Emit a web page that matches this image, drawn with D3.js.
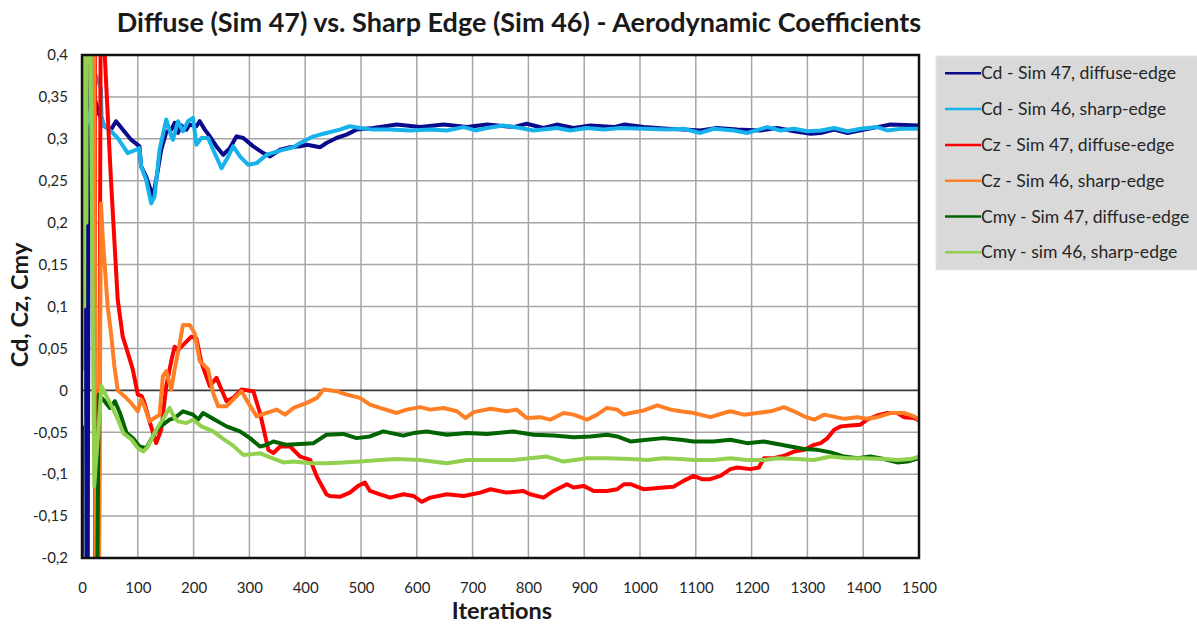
<!DOCTYPE html>
<html>
<head>
<meta charset="utf-8">
<script src="https://cdn.jsdelivr.net/npm/d3@7"></script>
<style>
  html, body { margin: 0; padding: 0; background: #ffffff; }
  svg { display: block; }
  text { font-family: Lato, "Open Sans", "Liberation Sans", sans-serif; }
</style>
</head>
<body>
<svg id="chart" width="1197" height="624"></svg>
<script>
// Iteration / coefficient pairs for each run
const cd47 = [
  [0,0.5],[7,0.18],[9,-0.6],[14,0.9],[20,0.36],[24,0.345],[30,0.33],[34,0.325],[40,0.315],[52,0.311],[61,0.321],[73,0.311],[88,0.299],[103,0.291],[106,0.267],[115,0.255],[127,0.231],[133,0.251],[142,0.287],[151,0.308],[160,0.311],[166,0.319],[172,0.307],[178,0.316],[187,0.311],[193,0.317],[205,0.315],[211,0.321],[220,0.311],[229,0.303],[241,0.291],[253,0.281],[265,0.289],[277,0.303],[289,0.301],[307,0.291],[325,0.283],[337,0.279],[355,0.287],[373,0.29],[391,0.291],[403,0.293],[427,0.29],[438,0.295],[456,0.301],[474,0.305],[492,0.311],[522,0.313],[564,0.317],[606,0.314],[648,0.317],[690,0.314],[726,0.317],[773,0.314],[797,0.318],[827,0.313],[851,0.317],[881,0.313],[911,0.316],[953,0.314],[971,0.317],[1007,0.314],[1049,0.312],[1078,0.311],[1108,0.31],[1138,0.313],[1174,0.311],[1216,0.31],[1246,0.313],[1276,0.309],[1306,0.306],[1324,0.307],[1348,0.311],[1372,0.307],[1402,0.311],[1425,0.314],[1449,0.317],[1500,0.316]
];
const cd46 = [
  [0,0.3],[10,0.32],[18,0.34],[25,0.375],[30,0.368],[34,0.36],[35,0.327],[40,0.315],[52,0.309],[64,0.301],[82,0.283],[97,0.287],[103,0.289],[106,0.267],[115,0.251],[124,0.223],[130,0.231],[139,0.287],[151,0.323],[160,0.303],[163,0.299],[172,0.321],[181,0.309],[190,0.321],[199,0.325],[205,0.293],[214,0.301],[226,0.301],[235,0.287],[250,0.265],[262,0.279],[271,0.291],[283,0.279],[298,0.269],[313,0.271],[331,0.281],[355,0.286],[379,0.29],[391,0.295],[415,0.303],[438,0.307],[462,0.311],[480,0.315],[498,0.313],[522,0.311],[552,0.311],[588,0.31],[624,0.311],[654,0.31],[684,0.314],[705,0.31],[726,0.313],[755,0.316],[785,0.313],[809,0.31],[851,0.313],[875,0.31],[905,0.313],[935,0.311],[965,0.313],[1007,0.312],[1049,0.311],[1078,0.312],[1108,0.307],[1132,0.312],[1168,0.31],[1192,0.307],[1228,0.314],[1252,0.31],[1276,0.312],[1300,0.309],[1324,0.31],[1348,0.313],[1372,0.309],[1396,0.312],[1425,0.314],[1443,0.31],[1468,0.312],[1500,0.312]
];
const cz47 = [
  [0,1.5],[22,1.5],[25,-1.5],[38,1.5],[40,0.41],[52,0.25],[64,0.108],[73,0.064],[82,0.045],[91,0.025],[100,-0.005],[107,-0.007],[112,-0.015],[121,-0.037],[133,-0.063],[142,-0.047],[151,0.005],[160,0.035],[166,0.052],[172,0.048],[184,0.056],[196,0.064],[205,0.062],[214,0.033],[229,0.005],[241,0.015],[259,-0.013],[271,-0.009],[286,0.001],[307,-0.001],[319,-0.027],[334,-0.071],[343,-0.075],[355,-0.067],[373,-0.067],[391,-0.079],[409,-0.083],[421,-0.103],[438,-0.124],[444,-0.126],[462,-0.127],[480,-0.122],[495,-0.114],[507,-0.11],[516,-0.12],[534,-0.124],[552,-0.128],[576,-0.124],[594,-0.126],[609,-0.133],[624,-0.128],[654,-0.124],[684,-0.126],[714,-0.122],[732,-0.118],[761,-0.122],[791,-0.12],[803,-0.124],[827,-0.128],[845,-0.12],[869,-0.112],[881,-0.116],[899,-0.114],[917,-0.12],[941,-0.12],[959,-0.118],[971,-0.112],[983,-0.112],[1007,-0.118],[1042,-0.116],[1060,-0.115],[1078,-0.108],[1096,-0.102],[1111,-0.106],[1126,-0.106],[1144,-0.102],[1162,-0.094],[1174,-0.092],[1198,-0.094],[1213,-0.092],[1222,-0.081],[1240,-0.081],[1258,-0.078],[1276,-0.073],[1294,-0.071],[1312,-0.065],[1324,-0.063],[1336,-0.057],[1348,-0.047],[1360,-0.043],[1377,-0.042],[1395,-0.041],[1407,-0.035],[1425,-0.03],[1443,-0.027],[1461,-0.027],[1473,-0.032],[1491,-0.033],[1500,-0.036]
];
const cz46 = [
  [0,0.035],[2,1.5],[16,1.5],[27,-0.6],[34,0.223],[37,0.184],[43,0.128],[46,0.1],[52,0.068],[58,0.029],[64,0.0],[76,-0.007],[88,-0.015],[100,-0.025],[106,-0.011],[112,-0.019],[121,-0.037],[130,-0.033],[139,-0.029],[145,0.017],[151,0.023],[160,0.001],[166,0.025],[172,0.045],[181,0.078],[193,0.078],[202,0.068],[211,0.035],[226,0.025],[235,-0.003],[244,-0.019],[259,-0.019],[277,-0.007],[286,-0.001],[298,-0.015],[313,-0.031],[331,-0.027],[349,-0.023],[364,-0.029],[379,-0.021],[403,-0.015],[421,-0.009],[433,0.001],[456,-0.001],[474,-0.005],[498,-0.009],[516,-0.017],[534,-0.021],[564,-0.027],[582,-0.023],[606,-0.02],[624,-0.023],[648,-0.021],[672,-0.025],[687,-0.033],[702,-0.026],[732,-0.022],[761,-0.025],[779,-0.023],[797,-0.033],[821,-0.032],[839,-0.035],[863,-0.027],[881,-0.029],[905,-0.035],[923,-0.029],[941,-0.021],[959,-0.023],[971,-0.029],[983,-0.027],[1007,-0.024],[1031,-0.018],[1055,-0.023],[1073,-0.025],[1096,-0.027],[1126,-0.032],[1150,-0.027],[1162,-0.025],[1186,-0.029],[1210,-0.027],[1234,-0.025],[1258,-0.02],[1276,-0.025],[1294,-0.031],[1312,-0.035],[1330,-0.029],[1366,-0.034],[1390,-0.032],[1407,-0.034],[1425,-0.032],[1449,-0.027],[1473,-0.027],[1491,-0.031],[1500,-0.035]
];
const cmy47 = [
  [0,-0.043],[2,-1.5],[18,-1.5],[24,-0.5],[30,-0.005],[38,-0.011],[50,-0.021],[59,-0.013],[68,-0.027],[80,-0.051],[91,-0.057],[103,-0.067],[115,-0.069],[127,-0.055],[139,-0.043],[145,-0.041],[157,-0.035],[166,-0.033],[181,-0.025],[199,-0.029],[208,-0.035],[217,-0.027],[235,-0.034],[259,-0.043],[283,-0.049],[301,-0.057],[319,-0.067],[331,-0.065],[343,-0.061],[367,-0.065],[391,-0.064],[415,-0.063],[438,-0.053],[468,-0.052],[492,-0.057],[516,-0.055],[540,-0.049],[576,-0.054],[594,-0.051],[618,-0.049],[654,-0.053],[690,-0.051],[726,-0.052],[773,-0.049],[809,-0.053],[845,-0.054],[881,-0.056],[911,-0.055],[941,-0.053],[959,-0.055],[983,-0.061],[1013,-0.059],[1042,-0.057],[1073,-0.059],[1096,-0.061],[1132,-0.061],[1162,-0.059],[1192,-0.063],[1222,-0.061],[1246,-0.064],[1270,-0.067],[1294,-0.07],[1318,-0.071],[1342,-0.074],[1366,-0.079],[1390,-0.081],[1413,-0.079],[1437,-0.082],[1461,-0.086],[1479,-0.085],[1500,-0.081]
];
const cmy46 = [
  [0,0.025],[2,1.5],[4,0.1],[6,1.5],[8,0.2],[11,1.5],[13,0.6],[22,-0.114],[35,0.005],[50,-0.015],[62,-0.031],[74,-0.051],[89,-0.059],[100,-0.069],[110,-0.073],[118,-0.067],[133,-0.047],[148,-0.031],[157,-0.021],[166,-0.033],[172,-0.037],[187,-0.039],[199,-0.035],[214,-0.043],[235,-0.049],[253,-0.058],[271,-0.066],[289,-0.077],[307,-0.076],[319,-0.075],[337,-0.08],[361,-0.086],[379,-0.085],[409,-0.087],[438,-0.087],[468,-0.086],[498,-0.085],[534,-0.083],[564,-0.082],[606,-0.083],[654,-0.087],[690,-0.083],[726,-0.083],[773,-0.083],[833,-0.079],[863,-0.085],[905,-0.081],[941,-0.081],[983,-0.082],[1013,-0.083],[1042,-0.081],[1073,-0.082],[1096,-0.083],[1132,-0.083],[1162,-0.081],[1192,-0.083],[1222,-0.083],[1246,-0.081],[1282,-0.082],[1312,-0.083],[1342,-0.079],[1372,-0.081],[1402,-0.081],[1437,-0.082],[1461,-0.083],[1485,-0.082],[1500,-0.079]
];

const seriesNames = [
  "Cd - Sim 47, diffuse-edge",
  "Cd - Sim 46, sharp-edge",
  "Cz - Sim 47, diffuse-edge",
  "Cz - Sim 46, sharp-edge",
  "Cmy - Sim 47, diffuse-edge",
  "Cmy - sim 46, sharp-edge"
];
const seriesColors = ["#0a0a8c", "#17b2ec", "#ff0000", "#ff7f27", "#006400", "#92d050"];

const xTicks = [0,100,200,300,400,500,600,700,800,900,1000,1100,1200,1300,1400,1500];
const xTickLabels = ["0","100","200","300","400","500","600","700","800","900","1000","1100","1200","1300","1400","1500"];
const yTicks = [-0.2,-0.15,-0.1,-0.05,0,0.05,0.1,0.15,0.2,0.25,0.3,0.35,0.4];
const yTickLabels = ["-0,2","-0,15","-0,1","-0,05","0","0,05","0,1","0,15","0,2","0,25","0,3","0,35","0,4"];

const chartTitle = "Diffuse (Sim 47) vs. Sharp Edge (Sim 46) - Aerodynamic Coefficients";
const xTitle = "Iterations";
const yTitle = "Cd, Cz, Cmy";

const svg = d3.select("#chart");
const plot = { left: 82, right: 919, top: 55, bottom: 558 };

const x = d3.scaleLinear().domain([0, 1500]).range([plot.left, plot.right]);
const y = d3.scaleLinear().domain([-0.2, 0.4]).range([plot.bottom, plot.top]);

svg.append("defs").append("clipPath").attr("id", "plotClip")
  .append("rect")
  .attr("x", plot.left).attr("y", plot.top)
  .attr("width", plot.right - plot.left).attr("height", plot.bottom - plot.top);

// grid
const grid = svg.append("g");
grid.selectAll("line.v").data(xTicks).join("line")
  .attr("x1", d => x(d)).attr("x2", d => x(d))
  .attr("y1", plot.top).attr("y2", plot.bottom)
  .attr("stroke", "#a6a6a6").attr("stroke-width", 1.5);
grid.selectAll("line.h").data(yTicks).join("line")
  .attr("x1", plot.left).attr("x2", plot.right)
  .attr("y1", d => y(d)).attr("y2", d => y(d))
  .attr("stroke", d => d === 0 ? "#3a3a3a" : "#a6a6a6")
  .attr("stroke-width", d => d === 0 ? 1.6 : 1.5);

// tick labels via d3 axes
const yAxis = d3.axisLeft(y).tickValues(yTicks)
  .tickFormat((d, i) => yTickLabels[i]).tickSize(0).tickPadding(14);
const gy = svg.append("g").attr("transform", `translate(${plot.left},0)`).call(yAxis);
gy.select(".domain").remove();
gy.selectAll("text").attr("font-size", 15).attr("fill", "#262626")
  .style("font-family", "Lato, 'Open Sans', sans-serif");

const xAxis = d3.axisBottom(x).tickValues(xTicks)
  .tickFormat((d, i) => xTickLabels[i]).tickSize(0).tickPadding(24);
const gx = svg.append("g").attr("transform", `translate(0,${plot.bottom})`).call(xAxis);
gx.select(".domain").remove();
gx.selectAll("text").attr("font-size", 15).attr("fill", "#262626")
  .style("font-family", "Lato, 'Open Sans', sans-serif");

// series lines
const line = d3.line().x(d => x(d[0])).y(d => y(d[1]));
const allSeries = [cd47, cd46, cz47, cz46, cmy47, cmy46];
svg.append("g").attr("clip-path", "url(#plotClip)")
  .selectAll("path").data(allSeries).join("path")
  .attr("d", line)
  .attr("fill", "none")
  .attr("stroke", (d, i) => seriesColors[i])
  .attr("stroke-width", 4)
  .attr("stroke-linejoin", "round")
  .attr("stroke-linecap", "round");

// plot frame
svg.append("rect")
  .attr("x", plot.left).attr("y", plot.top)
  .attr("width", plot.right - plot.left).attr("height", plot.bottom - plot.top)
  .attr("fill", "none").attr("stroke", "#111").attr("stroke-width", 2.5);

// titles
svg.append("text").attr("x", 519).attr("y", 32)
  .attr("text-anchor", "middle").attr("font-weight", "bold")
  .attr("font-size", 27).attr("fill", "#1a1a1a").text(chartTitle);

svg.append("text").attr("x", 502).attr("y", 619)
  .attr("text-anchor", "middle").attr("font-weight", "bold")
  .attr("font-size", 23.5).attr("fill", "#1a1a1a").text(xTitle);

svg.append("text").attr("transform", "translate(28,305) rotate(-90)")
  .attr("text-anchor", "middle").attr("font-weight", "bold")
  .attr("font-size", 23.5).attr("fill", "#1a1a1a").text(yTitle);

// legend
const legend = svg.append("g");
legend.append("rect").attr("x", 936).attr("y", 56)
  .attr("width", 270).attr("height", 214)
  .attr("fill", "#d9d9d9").attr("stroke", "#e6e6e6").attr("stroke-width", 1);
const items = legend.selectAll("g.item").data(seriesNames).join("g")
  .attr("transform", (d, i) => `translate(0,${73.3 + i * 35.8})`);
items.append("line").attr("x1", 945).attr("x2", 981).attr("y1", 0).attr("y2", 0)
  .attr("stroke", (d, i) => seriesColors[i]).attr("stroke-width", 2.5);
items.append("text").attr("x", 981).attr("y", 0).attr("dy", "0.35em")
  .attr("font-size", 17.6).attr("fill", "#262626").text(d => d);
</script>
</body>
</html>
